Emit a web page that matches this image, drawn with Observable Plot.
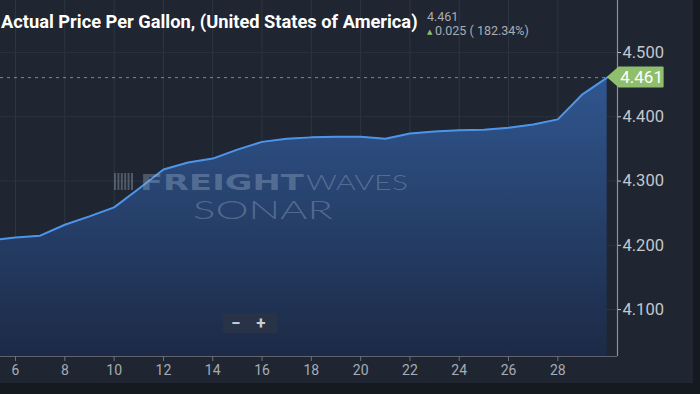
<!DOCTYPE html>
<html><head><meta charset="utf-8">
<script src="https://cdn.jsdelivr.net/npm/d3@7"></script>
<script src="https://cdn.jsdelivr.net/npm/@observablehq/plot@0.6"></script>
<style>
html,body{margin:0;padding:0;background:#151a21;}
#wrap{width:700px;height:394px;background:#151a21;overflow:hidden}
#chart svg{display:block;background:#1f2631}
</style></head><body><div id="wrap"><div id="chart"></div></div>
<script>
// ---- data ----
const days   = [5, 6, 7, 8, 9, 10, 11, 12, 13, 14, 15, 16, 17, 18, 19, 20, 21, 22, 23, 24, 25, 26, 27, 28, 29, 30];
const prices = [4.208, 4.212, 4.215, 4.232, 4.245, 4.259, 4.288, 4.318, 4.329, 4.335, 4.349, 4.361, 4.366, 4.368, 4.369, 4.369, 4.366, 4.374, 4.377, 4.379, 4.380, 4.383, 4.388, 4.396, 4.435, 4.461];
const xTicks = [6, 8, 10, 12, 14, 16, 18, 20, 22, 24, 26, 28];
const yTicks = [4.1, 4.2, 4.3, 4.4, 4.5];
const titleText = "Actual Price Per Gallon, (United States of America)";
const lastLabel = "4.461";
const changeLabel = "0.025 ( 182.34%)";
const watermark = ["FREIGHT", "WAVES", "SONAR"];
const zoomLabels = ["\u2212", "+"];

const data = days.map((d, i) => ({day: d, price: prices[i]}));
const xDomain = [5.39, 30.42];
const yDomain = [4.027, 4.581];
const last = data[data.length - 1];

// fit a text to a width by horizontal scaling (keeps real text)
function fitWidth(sel, x, y, width) {
  const n = sel.node();
  const w = n.getComputedTextLength();
  const k = w > 0 ? width / w : 1;
  sel.attr("x", 0).attr("y", 0).attr("transform", `translate(${x},${y}) scale(${k},1)`);
}

const decor = (index, scales, values, dim) => {
  const svg = d3.create("svg:g").attr("text-anchor", "start");
  // gradient
  const defs = svg.append("defs");
  const g = defs.append("linearGradient").attr("id", "pgGrad").attr("x1", 0).attr("y1", 0).attr("x2", 0).attr("y2", 1);
  g.append("stop").attr("offset", "0%").attr("stop-color", "#30568f");
  g.append("stop").attr("offset", "100%").attr("stop-color", "#1c2a46");

  // watermark
  const wm = svg.append("g").attr("fill", "#a5b6cd").attr("fill-opacity", 0.36);
  for (let i = 0; i < 6; i++) wm.append("rect").attr("x", 114 + i * 3.4).attr("y", 173).attr("width", 2).attr("height", 17);
  wm.append("text").attr("class", "wm1").text(watermark[0])
    .attr("font-family", "DejaVu Sans").attr("font-weight", "bold").attr("font-size", 22);
  wm.append("text").attr("class", "wm2").text(watermark[1])
    .attr("font-family", "Lato").attr("font-weight", 300).attr("font-size", 22);
  wm.append("text").attr("class", "wm3").text(watermark[2])
    .attr("font-family", "Lato").attr("font-weight", 300).attr("font-size", 26);

  // zoom buttons
  const zb = svg.append("g").attr("text-anchor", "middle");
  zb.append("rect").attr("x", 223).attr("y", 313).attr("width", 54).attr("height", 20).attr("rx", 2).attr("fill", "#2a3447").attr("fill-opacity", 0.85);
  zb.append("text").text(zoomLabels[0]).attr("x", 236).attr("y", 329)
    .attr("fill", "#c9ced6").attr("font-family", "Roboto").attr("font-weight", "bold").attr("font-size", 17);
  zb.append("text").text(zoomLabels[1]).attr("x", 261).attr("y", 329)
    .attr("fill", "#c9ced6").attr("font-family", "Roboto").attr("font-weight", "bold").attr("font-size", 17);

  // title + header
  svg.append("text").attr("class", "ttl").text(titleText)
    .attr("fill", "#ffffff").attr("font-family", "Roboto").attr("font-weight", "bold").attr("font-size", 19);
  svg.append("text").text(lastLabel).attr("x", 427).attr("y", 21)
    .attr("fill", "#a8adb5").attr("font-family", "Roboto").attr("font-size", 12.5);
  svg.append("text").text("\u25B2").attr("x", 427).attr("y", 34)
    .attr("fill", "#8dbd6c").attr("font-family", "DejaVu Sans").attr("font-size", 7);
  svg.append("text").text(changeLabel).attr("x", 435).attr("y", 35)
    .attr("fill", "#a8adb5").attr("font-family", "Roboto").attr("font-size", 12.5);

  // last value tag
  const xe = scales.x(last.day), ye = scales.y(last.price);
  const tag = svg.append("g");
  tag.append("path").attr("d",
    `M${xe},${ye} L${xe + 12},${ye - 10.5} L${xe + 56},${ye - 10.5} Q${xe + 57},${ye - 10.5} ${xe + 57},${ye - 9.5} L${xe + 57},${ye + 9.5} Q${xe + 57},${ye + 10.5} ${xe + 56},${ye + 10.5} L${xe + 12},${ye + 10.5} Z`)
    .attr("fill", "#8fbe6d");
  tag.append("text").text(d3.format(".3f")(last.price)).attr("x", xe + 35).attr("y", ye + 6)
    .attr("text-anchor", "middle").attr("fill", "#ffffff").attr("font-family", "Roboto").attr("font-size", 17);
  return svg.node();
};

const plot = Plot.plot({
  width: 693,
  height: 383,
  marginLeft: 0,
  marginTop: 0,
  marginRight: 76,
  marginBottom: 27,
  style: {background: "#1f2631", fontFamily: "Roboto"},
  x: {domain: xDomain},
  y: {domain: yDomain},
  marks: [
    Plot.gridX(xTicks, {stroke: "#2d3644", strokeOpacity: 1}),
    Plot.gridY(yTicks, {stroke: "#2a3340", strokeOpacity: 1}),
    Plot.areaY(data, {x: "day", y1: yDomain[0], y2: "price", fill: "url(#pgGrad)", clip: true}),
    Plot.lineY(data, {x: "day", y: "price", stroke: "#4d95ea", strokeWidth: 2, clip: true}),
    Plot.ruleY([last.price], {stroke: "#7f8f78", strokeDasharray: "3,4", strokeWidth: 1}),
    Plot.ruleX([xDomain[1]], {stroke: "#8b929c", strokeWidth: 1.2}),
    Plot.ruleY([yDomain[0]], {stroke: "#5d6470", strokeWidth: 1.2}),
    Plot.axisX({ticks: xTicks, tickSize: 5, tickPadding: 4, fontSize: 14, color: "#a6acb5", label: null, stroke: "#6c737d"}),
    Plot.axisY({ticks: yTicks, anchor: "right", tickFormat: ".3f", tickSize: 3, tickPadding: 2, fontSize: 16.5, color: "#c3c7ce", label: null}),
    decor
  ]
});
document.getElementById("chart").appendChild(plot);
const root = d3.select(plot);
fitWidth(root.select("text.ttl"), 1, 28, 417);
fitWidth(root.select("text.wm1"), 140, 190, 164);
fitWidth(root.select("text.wm2"), 306, 190, 102);
fitWidth(root.select("text.wm3"), 193, 219, 140);
</script></body></html>
